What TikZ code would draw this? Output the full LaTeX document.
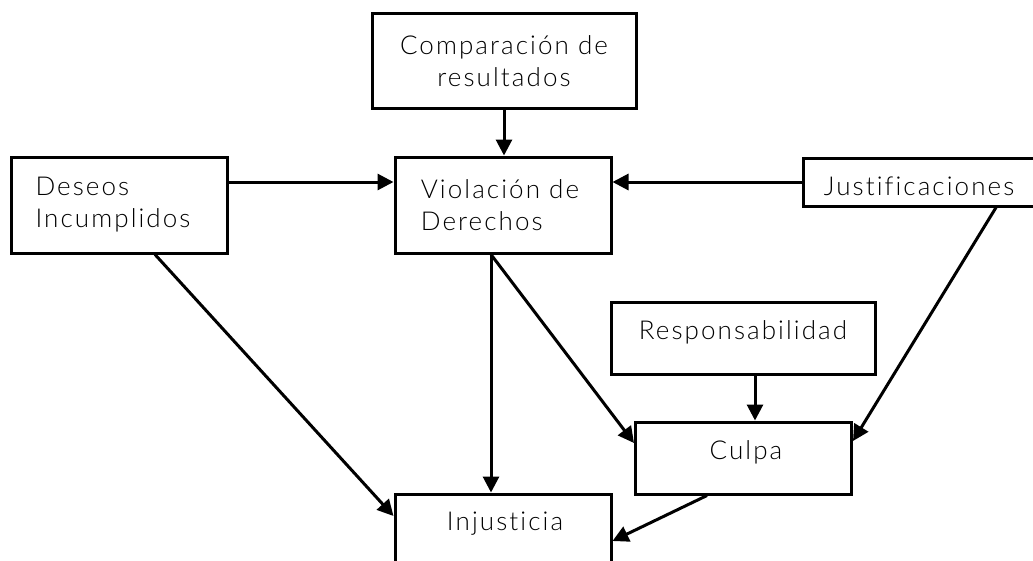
\documentclass[tikz,border=0pt]{standalone}
\usepackage{fontspec}
\setmainfont{Lato}[UprightFont=* Light,LetterSpace=8,Ligatures=NoCommon,RawFeature=-liga]
\usetikzlibrary{arrows.meta}
\begin{document}
\begin{tikzpicture}[x=1pt,y=-1pt,
  box/.style={draw,line width=3pt,inner sep=0pt,rectangle},
  txt/.style={font=\fontsize{26}{32}\selectfont,inner sep=0pt,align=left},
  conn/.style={line width=3pt,-{Triangle[length=16pt,width=16pt]}}]
\useasboundingbox (0,0) rectangle (1033,560);
\clip (0,0) rectangle (1033,560);
% boxes
\node[box,minimum width=264pt,minimum height=95pt] (comp) at (504,60.5) {};
\node[box,minimum width=216pt,minimum height=96pt] (des) at (119,205) {};
\node[box,minimum width=216pt,minimum height=96pt] (vio) at (503,205) {};
\node[box,minimum width=240pt,minimum height=48pt] (jus) at (923,182) {};
\node[box,minimum width=264pt,minimum height=72pt] (res) at (743,338) {};
\node[box,minimum width=216pt,minimum height=72pt] (cul) at (743.5,458) {};
\node[box,minimum width=216pt,minimum height=90pt] (inj) at (503,539) {};
% texts
\node[txt,align=center] (compT) at (504,61) {Comparación de\\resultados};
\node[txt] (desT) at (113,205) {Deseos\\Incumplidos};
\node[txt] (vioT) at (500,205) {Violación de\\Derechos};
\node[txt] (jusT) at (919,186) {Justificaciones};
\node[txt] (resT) at (743,332) {Responsabilidad};
\node[txt] (culT) at (746,452) {Culpa};
\node[txt] (injT) at (505,524) {Injusticia};
% connectors
\draw[conn] (comp.south) -- (vio.north -| comp.south);
\draw[conn] (des.east |- 0,182) -- (vio.west |- 0,182);
\draw[conn] (jus.west) -- (vio.east |- jus.west);
\draw[conn] (des.south -| 155,0) -- (inj.west |- 0,516);
\draw[conn] (vio.south -| 491,0) -- (inj.north -| 491,0);
\draw[conn] (vio.south -| 491,0) -- (cul.west |- 0,443);
\draw[conn] (res.south -| 755,0) -- (cul.north -| 755,0);
\draw[conn] (jus.south -| 996,0) -- (cul.east |- 0,441);
\draw[conn] (cul.south -| 707,0) -- (inj.east |- 0,541);
\end{tikzpicture}
\end{document}
